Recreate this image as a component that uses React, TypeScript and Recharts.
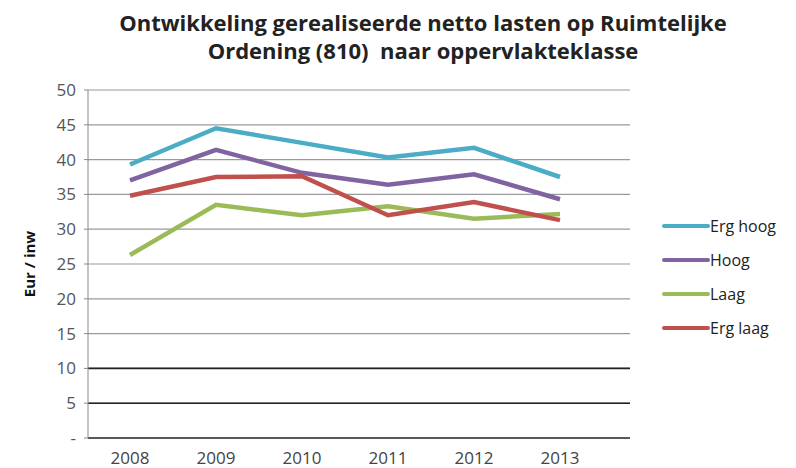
import { LineChart, Line, XAxis, YAxis, CartesianGrid, ReferenceLine } from 'recharts';

const years = ['2008', '2009', '2010', '2011', '2012', '2013'];
const ergHoog = [39.3, 44.5, 42.4, 40.3, 41.7, 37.5];
const hoog = [37.0, 41.4, 38.1, 36.4, 37.9, 34.3];
const laag = [26.3, 33.5, 32.0, 33.3, 31.5, 32.2];
const ergLaag = [34.8, 37.5, 37.6, 32.0, 33.9, 31.3];
const yTicks = [0, 5, 10, 15, 20, 25, 30, 35, 40, 45, 50];
const titleLines = ['Ontwikkeling gerealiseerde netto lasten op Ruimtelijke', 'Ordening (810)\u00a0 naar oppervlakteklasse'];

const series = [
  { key: 'ergHoog', name: 'Erg hoog', color: '#4BACC6' },
  { key: 'hoog', name: 'Hoog', color: '#8064A2' },
  { key: 'laag', name: 'Laag', color: '#9BBB59' },
  { key: 'ergLaag', name: 'Erg laag', color: '#C0504D' },
];

const data = years.map((year, i) => ({
  year,
  ergHoog: ergHoog[i],
  hoog: hoog[i],
  laag: laag[i],
  ergLaag: ergLaag[i],
}));

const bodyFont = '"Open Sans", "Noto Sans", sans-serif';

const LegendBox = () => (
  <div style={{ position: 'absolute', left: 662, top: 209, fontFamily: bodyFont, fontSize: 16, color: '#222' }}>
    {series.map((s) => (
      <div key={s.key} style={{ display: 'flex', alignItems: 'center', height: 34 }}>
        <svg width={48} height={8}>
          <line x1={2} y1={4} x2={46} y2={4} stroke={s.color} strokeWidth={4} strokeLinecap="round" />
        </svg>
        <span>{s.name}</span>
      </div>
    ))}
  </div>
);

export default function App() {
  return (
    <div style={{ position: 'absolute', left: 0, top: 0, width: 796, height: 468, background: '#fff' }}>
      {titleLines.map((t, i) => (
        <div
          key={i}
          style={{
            position: 'absolute',
            left: 0,
            top: 9 + i * 28,
            width: 846,
            textAlign: 'center',
            fontFamily: bodyFont,
            fontWeight: 'bold',
            fontSize: 22,
            lineHeight: '26px',
            color: '#222',
            whiteSpace: 'pre',
            transform: 'scaleX(1.0)',
            transformOrigin: '423px 0',
          }}
        >
          {t}
        </div>
      ))}
      <LineChart width={796} height={468} data={data} margin={{ top: 90, right: 166, bottom: 0, left: 42 }}>
        <CartesianGrid horizontal vertical={false} stroke="#9a9a9a" strokeWidth={1.2} />
        <ReferenceLine y={10} stroke="#222" strokeWidth={1.6} />
        <ReferenceLine y={5} stroke="#222" strokeWidth={1.6} />
        <XAxis
          dataKey="year"
          height={30}
          padding={{ left: 42, right: 70 }}
          axisLine={{ stroke: '#333', strokeWidth: 1.6 }}
          tickLine={false}
          tickMargin={8}
          tick={{ fontSize: 17, fill: '#444', fontFamily: bodyFont }}
        />
        <YAxis
          domain={[0, 50]}
          ticks={yTicks}
          interval={0}
          width={46}
          tickFormatter={(v: number) => (v === 0 ? '-' : String(v))}
          axisLine={{ stroke: '#888' }}
          tickLine={{ stroke: '#888' }}
          tickSize={4}
          tickMargin={8}
          tick={{ fontSize: 17, fill: '#555', fontFamily: bodyFont }}
          label={{
            value: 'Eur / inw',
            angle: -90,
            position: 'insideLeft',
            offset: -12,
            style: { fontSize: 15, fontWeight: 'bold', fill: '#111', fontFamily: bodyFont, textAnchor: 'middle' },
          }}
        />
        {series.map((s) => (
          <Line
            key={s.key}
            type="linear"
            dataKey={s.key}
            name={s.name}
            stroke={s.color}
            strokeWidth={4.5}
            dot={false}
            activeDot={false}
            isAnimationActive={false}
          />
        ))}
      </LineChart>
      <LegendBox />
    </div>
  );
}
